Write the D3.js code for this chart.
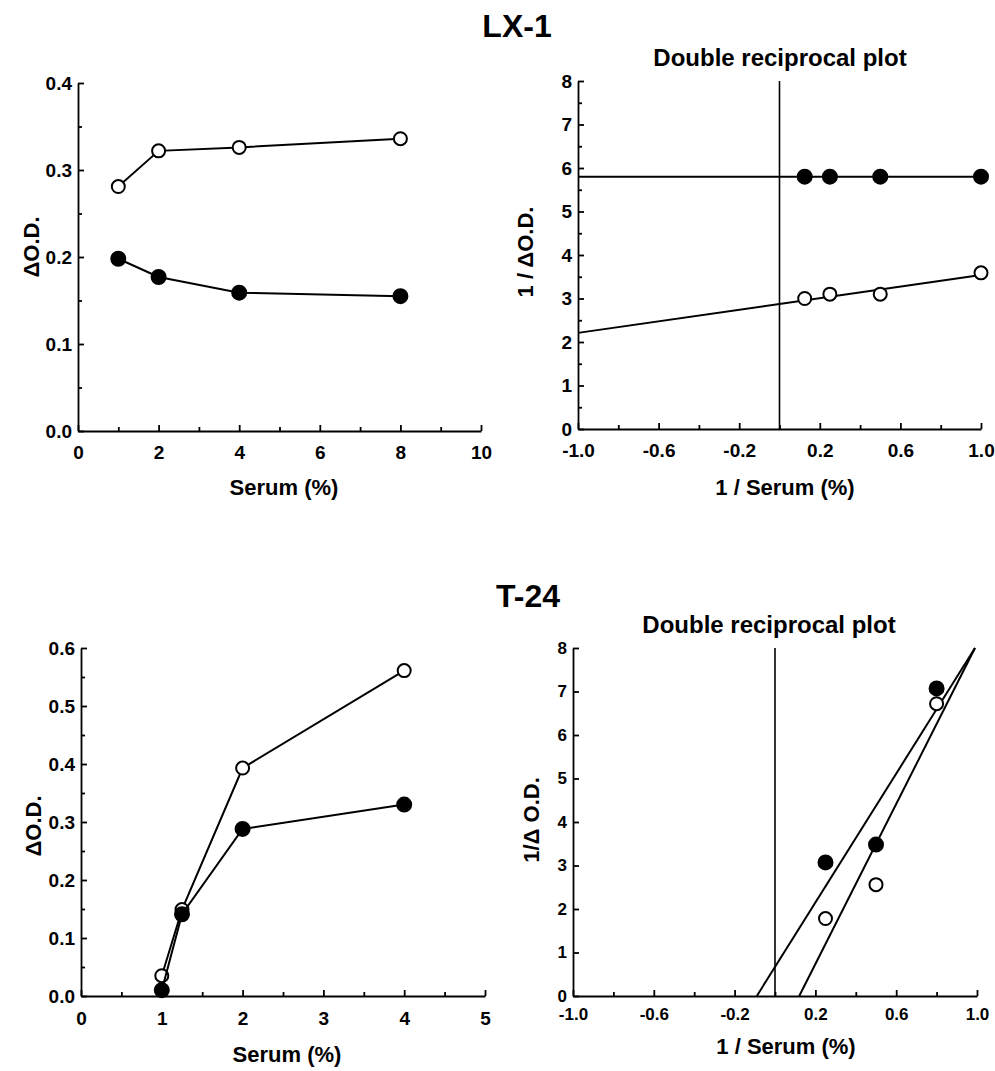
<!DOCTYPE html>
<html>
<head>
<meta charset="utf-8">
<script src="https://cdn.jsdelivr.net/npm/d3@7"></script>
<style>
  body { margin: 0; background: #fff; }
  svg { font-family: "Liberation Sans", Arial, Helvetica, sans-serif; font-weight: bold; }
  .axis path, .axis line { stroke: #000; stroke-width: 1.8; }
  .axis text { fill: #000; font-weight: bold; font-family: "Liberation Sans", Arial, Helvetica, sans-serif; }
</style>
</head>
<body>
<div id="grafica"></div>
<script>
// ---- data ----
// LX-1
var lx1Serum = [1, 2, 4, 8];
var lx1Open = [0.281, 0.322, 0.326, 0.336];
var lx1Filled = [0.198, 0.177, 0.159, 0.155];
var lx1InvSerum = [0.125, 0.25, 0.5, 1.0];
var lx1InvOpen = [3.0, 3.1, 3.1, 3.59];
var lx1InvFilled = [5.8, 5.8, 5.8, 5.8];
var lx1FitOpen = [[-1, 2.21], [1, 3.54]];
var lx1FitFilled = [[-1, 5.8], [1, 5.8]];

// T-24
var t24Serum = [1, 1.25, 2, 4];
var t24Open = [0.035, 0.149, 0.393, 0.561];
var t24Filled = [0.010, 0.141, 0.288, 0.330];
var t24InvSerum = [0.25, 0.5, 0.8];
var t24InvOpen = [1.78, 2.56, 6.72];
var t24InvFilled = [3.07, 3.48, 7.07];
var t24FitOpen = [[0.12, 0], [0.99, 8]];
var t24FitFilled = [[-0.09, 0], [0.99, 8]];

// tick labels
var odTicks = [0, 0.1, 0.2, 0.3, 0.4];
var odTicks2 = [0, 0.1, 0.2, 0.3, 0.4, 0.5, 0.6];
var serumTicks = [0, 2, 4, 6, 8, 10];
var serumTicks2 = [0, 1, 2, 3, 4, 5];
var invTicks = [-1.0, -0.6, -0.2, 0.2, 0.6, 1.0];
var recTicks = [0, 1, 2, 3, 4, 5, 6, 7, 8];

var svg = d3.select("#grafica")
  .append("svg")
    .attr("width", 995)
    .attr("height", 1071);

// big titles
svg.append("text").attr("x", 517).attr("y", 37)
  .attr("text-anchor", "middle").style("font-size", "32px").text("LX-1");
svg.append("text").attr("x", 528).attr("y", 607)
  .attr("text-anchor", "middle").style("font-size", "32px").text("T-24");

function panel(cfg) {
  var x = d3.scaleLinear().domain(cfg.xd).range([cfg.left, cfg.right]);
  var y = d3.scaleLinear().domain(cfg.yd).range([cfg.bottom, cfg.top]);
  var g = svg.append("g");

  // minor ticks
  g.append("g").attr("class", "axis")
    .attr("transform", "translate(0," + cfg.bottom + ")")
    .call(d3.axisBottom(x).tickValues(cfg.xMinor).tickSize(-4).tickFormat(""))
    .select(".domain").remove();
  g.append("g").attr("class", "axis")
    .attr("transform", "translate(" + cfg.left + ",0)")
    .call(d3.axisLeft(y).tickValues(cfg.yMinor).tickSize(-4).tickFormat(""))
    .select(".domain").remove();

  // major ticks + labels
  var xa = g.append("g").attr("class", "axis")
    .attr("transform", "translate(0," + cfg.bottom + ")")
    .call(d3.axisBottom(x).tickValues(cfg.xTicks).tickSizeInner(-6).tickSizeOuter(0)
      .tickPadding(cfg.xPad).tickFormat(cfg.xFmt));
  xa.selectAll("text").style("font-size", cfg.tickSize + "px");
  var ya = g.append("g").attr("class", "axis")
    .attr("transform", "translate(" + cfg.left + ",0)")
    .call(d3.axisLeft(y).tickValues(cfg.yTicks).tickSizeInner(-6).tickSizeOuter(0)
      .tickPadding(6).tickFormat(cfg.yFmt));
  ya.selectAll("text").style("font-size", cfg.tickSize + "px");

  // axis titles
  g.append("text").attr("x", cfg.xtX).attr("y", cfg.xtY)
    .attr("text-anchor", "middle").style("font-size", "22px").text(cfg.xTitle);
  g.append("text")
    .attr("transform", "translate(" + cfg.ytX + "," + cfg.ytY + ") rotate(-90)")
    .attr("dy", "0.35em")
    .attr("text-anchor", "middle").style("font-size", "22px").text(cfg.yTitle);

  if (cfg.title) {
    g.append("text").attr("x", cfg.title[1]).attr("y", cfg.title[2])
      .attr("text-anchor", "middle").style("font-size", "24px").text(cfg.title[0]);
  }

  if (cfg.vline) {
    g.append("line")
      .attr("x1", x(0)).attr("x2", x(0))
      .attr("y1", y(cfg.yd[1])).attr("y2", y(cfg.yd[0]))
      .attr("stroke", "#000").attr("stroke-width", 1.6);
  }

  var line = d3.line().x(function(d) { return x(d[0]); }).y(function(d) { return y(d[1]); });

  cfg.lines.forEach(function(l) {
    g.append("path").datum(l)
      .attr("fill", "none").attr("stroke", "#000").attr("stroke-width", 2)
      .attr("d", line);
  });

  cfg.series.forEach(function(s) {
    var pts = s.xs.map(function(v, i) { return [v, s.ys[i]]; });
    if (s.join) {
      g.append("path").datum(pts)
        .attr("fill", "none").attr("stroke", "#000").attr("stroke-width", 2)
        .attr("d", line);
    }
    g.selectAll("dot").data(pts).enter().append("circle")
      .attr("cx", function(d) { return x(d[0]); })
      .attr("cy", function(d) { return y(d[1]); })
      .attr("r", s.filled ? 7 : 6.5)
      .attr("fill", s.filled ? "#000" : "#fff")
      .attr("stroke", "#000").attr("stroke-width", 2);
  });
}

function rng(a, b, s) { return d3.range(a, b + s / 2, s); }
// hyphen instead of unicode minus, as in the figure
var fmt1 = function(v) { return d3.format(".1f")(v).replace("\u2212", "-"); };

// LX-1, Serum vs dOD
panel({
  left: 78, right: 481, top: 83, bottom: 431,
  xd: [0, 10], yd: [0, 0.4],
  xTicks: serumTicks, xMinor: rng(1, 9, 2), xFmt: d3.format("d"), xPad: 15,
  yTicks: odTicks, yMinor: rng(0.05, 0.35, 0.1), yFmt: fmt1,
  tickSize: 19,
  xTitle: "Serum (%)", xtX: 284, xtY: 495,
  yTitle: "\u0394O.D.", ytX: 31, ytY: 247,
  lines: [],
  series: [
    { xs: lx1Serum, ys: lx1Open, filled: false, join: true },
    { xs: lx1Serum, ys: lx1Filled, filled: true, join: true }
  ]
});

// LX-1, double reciprocal
panel({
  left: 578, right: 981, top: 81, bottom: 429,
  xd: [-1, 1], yd: [0, 8],
  xTicks: invTicks, xMinor: rng(-0.8, 0.8, 0.4), xFmt: fmt1, xPad: 15,
  yTicks: recTicks, yMinor: rng(0.5, 7.5, 1), yFmt: d3.format("d"),
  tickSize: 19,
  xTitle: "1 / Serum (%)", xtX: 785, xtY: 495,
  yTitle: "1 / \u0394O.D.", ytX: 525, ytY: 252,
  title: ["Double reciprocal plot", 780, 66],
  vline: true,
  lines: [lx1FitFilled, lx1FitOpen],
  series: [
    { xs: lx1InvSerum, ys: lx1InvFilled, filled: true },
    { xs: lx1InvSerum, ys: lx1InvOpen, filled: false }
  ]
});

// T-24, Serum vs dOD
panel({
  left: 81, right: 485, top: 648, bottom: 996,
  xd: [0, 5], yd: [0, 0.6],
  xTicks: serumTicks2, xMinor: rng(0.5, 4.5, 1), xFmt: d3.format("d"), xPad: 16,
  yTicks: odTicks2, yMinor: rng(0.05, 0.55, 0.1), yFmt: fmt1,
  tickSize: 19,
  xTitle: "Serum (%)", xtX: 287, xtY: 1062,
  yTitle: "\u0394O.D.", ytX: 33, ytY: 826,
  lines: [],
  series: [
    { xs: t24Serum, ys: t24Open, filled: false, join: true },
    { xs: t24Serum, ys: t24Filled, filled: true, join: true }
  ]
});

// T-24, double reciprocal
panel({
  left: 573, right: 977, top: 648, bottom: 996,
  xd: [-1, 1], yd: [0, 8],
  xTicks: invTicks, xMinor: rng(-0.8, 0.8, 0.4), xFmt: fmt1, xPad: 12,
  yTicks: recTicks, yMinor: [], yFmt: d3.format("d"),
  tickSize: 17,
  xTitle: "1 / Serum (%)", xtX: 786, xtY: 1054,
  yTitle: "1/\u0394 O.D.", ytX: 531, ytY: 820,
  title: ["Double reciprocal plot", 769, 633],
  vline: true,
  lines: [t24FitFilled, t24FitOpen],
  series: [
    { xs: t24InvSerum, ys: t24InvFilled, filled: true },
    { xs: t24InvSerum, ys: t24InvOpen, filled: false }
  ]
});
</script>
</body>
</html>
